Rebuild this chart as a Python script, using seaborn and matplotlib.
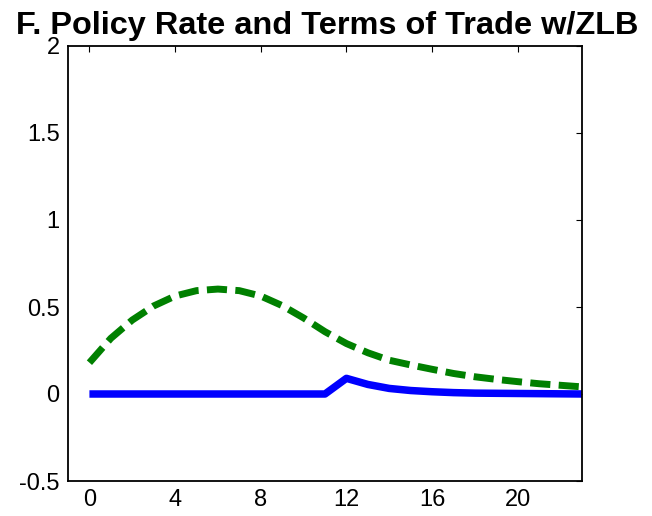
# Policy rate and terms of trade under the zero lower bound
import matplotlib
matplotlib.use("Agg")
import matplotlib.pyplot as plt
import numpy as np
import pandas as pd
import seaborn as sns

# Quarters after the shock
quarters = list(range(0, 24))

# Policy rate (solid blue)
policy_rate = [0, 0, 0, 0, 0, 0, 0, 0, 0, 0, 0, 0,
               0.09, 0.055, 0.032, 0.02, 0.013, 0.008, 0.005, 0.004,
               0.003, 0.002, 0.001, 0.0]

# Terms of trade (dashed green)
terms_of_trade = [0.18, 0.32, 0.425, 0.506, 0.563, 0.594, 0.603, 0.594,
                  0.563, 0.508, 0.437, 0.358, 0.29, 0.237, 0.194, 0.167,
                  0.142, 0.118, 0.099, 0.084, 0.071, 0.059, 0.05, 0.041]

title = "F. Policy Rate and Terms of Trade w/ZLB"
xticks = [0, 4, 8, 12, 16, 20]
yticks = [-0.5, 0, 0.5, 1, 1.5, 2]
yticklabels = ["-0.5", "0", "0.5", "1", "1.5", "2"]

df = pd.DataFrame({"quarter": quarters,
                   "policy": policy_rate,
                   "tot": terms_of_trade})

sns.set_style("white")
plt.rcParams["font.family"] = ["Liberation Sans", "DejaVu Sans"]
plt.rcParams["text.color"] = "black"
plt.rcParams["xtick.color"] = "black"
plt.rcParams["ytick.color"] = "black"

fig = plt.figure(figsize=(6.52, 5.16), dpi=100)
ax = fig.add_axes([68 / 652, 35 / 516, 514 / 652, 435 / 516])

sns.lineplot(data=df, x="quarter", y="tot", color="#008000", linewidth=5, ax=ax)
sns.lineplot(data=df, x="quarter", y="policy", color="#0000ff", linewidth=5.4, ax=ax)
ax.lines[0].set_dashes((2.9, 1.2))
ax.lines[0].set_dash_capstyle("butt")
ax.lines[1].set_solid_capstyle("butt")

ax.set_xlim(-1, 23)
ax.set_ylim(-0.5, 2)
ax.set_xticks(xticks)
ax.set_yticks(yticks)
ax.set_yticklabels(yticklabels)
ax.set(xlabel="", ylabel="")
ax.tick_params(direction="in", length=4, width=0.8, top=True, right=True,
               labelsize=17, pad=6, colors="black")
for side in ax.spines.values():
    side.set_visible(True)
    side.set_color("black")
    side.set_linewidth(1.3)

fig.text(327 / 652, 1 - 34 / 516, title, ha="center", va="baseline",
         fontsize=23.4, fontweight="bold", color="black")

fig.savefig("out.png", dpi=100)
